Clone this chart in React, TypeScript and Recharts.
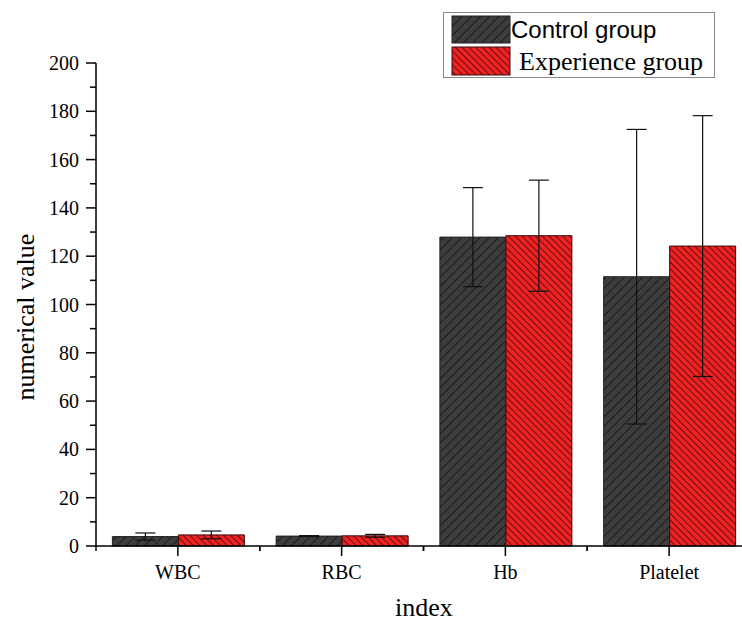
import React from 'react'
import { BarChart, Bar, XAxis, YAxis, ErrorBar } from 'recharts'

const categories = ['WBC', 'RBC', 'Hb', 'Platelet']
const controlMeans = [3.9, 4.1, 127.9, 111.5]
const controlErrors = [1.5, 0.2, 20.5, 61]
const experienceMeans = [4.6, 4.2, 128.5, 124.2]
const experienceErrors = [1.6, 0.6, 23, 54]
const yTicks = [0, 10, 20, 30, 40, 50, 60, 70, 80, 90, 100, 110, 120, 130, 140, 150, 160, 170, 180, 190, 200]

const data = categories.map((name, i) => ({
  name,
  control: controlMeans[i],
  controlErr: controlErrors[i],
  experience: experienceMeans[i],
  experienceErr: experienceErrors[i],
}))

const CHART_W = 752
const CHART_H = 624
const Y_AXIS_W = 96
const MARGIN = { top: 63, right: 1, bottom: 28, left: 0 }
const PLOT_W = CHART_W - MARGIN.left - MARGIN.right - Y_AXIS_W
const CAT_HALF = PLOT_W / categories.length / 2

const serif = '"Liberation Serif", "Times New Roman", serif'
const sans = '"Liberation Sans", Arial, sans-serif'

const Patterns = ({ suffix }: { suffix: string }) => (
  <defs>
    <pattern id={`hatchControl${suffix}`} patternUnits="userSpaceOnUse" width={6.5} height={6.5} patternTransform="rotate(45)">
      <rect width={6.5} height={6.5} fill="#3d3d3d" />
      <line x1={0} y1={0} x2={0} y2={6.5} stroke="#0d0d0d" strokeWidth={1.4} />
    </pattern>
    <pattern id={`hatchExp${suffix}`} patternUnits="userSpaceOnUse" width={4.8} height={4.8} patternTransform="rotate(-45)">
      <rect width={4.8} height={4.8} fill="#ee2222" />
      <line x1={0} y1={0} x2={0} y2={4.8} stroke="#200404" strokeWidth={1.3} />
    </pattern>
  </defs>
)

const YTick = (props: any) => {
  const { x, y, payload } = props
  const major = payload.value % 20 === 0
  return (
    <g>
      <line x1={x} x2={x - (major ? 10 : 6)} y1={y} y2={y} stroke="#000" strokeWidth={1.5} />
      {major && (
        <text x={x - 17} y={y + 7} textAnchor="end" fontFamily={serif} fontSize={20} fill="#000">
          {payload.value}
        </text>
      )}
    </g>
  )
}

const XTick = (props: any) => {
  const { x, y, payload } = props
  return (
    <g>
      <line x1={x} x2={x} y1={y} y2={y + 10} stroke="#000" strokeWidth={1.5} />
      <line x1={x - CAT_HALF} x2={x - CAT_HALF} y1={y} y2={y + 5} stroke="#000" strokeWidth={1.5} />
      <line x1={x + CAT_HALF} x2={x + CAT_HALF} y1={y} y2={y + 5} stroke="#000" strokeWidth={1.5} />
      <text x={x} y={y + 33} textAnchor="middle" fontFamily={serif} fontSize={20} fill="#000">
        {payload.value}
      </text>
    </g>
  )
}

export default function App() {
  return (
    <div style={{ position: 'absolute', left: 0, top: 0, width: 742, height: 624, overflow: 'hidden', background: '#fff' }}>
      <BarChart
        width={CHART_W}
        height={CHART_H}
        data={data}
        margin={MARGIN}
        barCategoryGap="10%"
        barGap={0}
      >
        <Patterns suffix="" />
        <XAxis
          dataKey="name"
          tick={<XTick />}
          tickLine={false}
          tickSize={0}
          tickMargin={0}
          height={50}
          axisLine={{ stroke: '#000', strokeWidth: 1.5 }}
          interval={0}
        />
        <YAxis
          type="number"
          domain={[0, 200]}
          ticks={yTicks}
          interval={0}
          tick={<YTick />}
          tickLine={false}
          tickSize={0}
          tickMargin={0}
          width={Y_AXIS_W}
          axisLine={{ stroke: '#000', strokeWidth: 1.5 }}
        />
        <Bar dataKey="control" fill="url(#hatchControl)" stroke="#222" strokeWidth={1} isAnimationActive={false}>
          <ErrorBar dataKey="controlErr" width={10} stroke="#111" strokeWidth={1.2} direction="y" />
        </Bar>
        <Bar dataKey="experience" fill="url(#hatchExp)" stroke="#3a0a0a" strokeWidth={1} isAnimationActive={false}>
          <ErrorBar dataKey="experienceErr" width={10} stroke="#111" strokeWidth={1.2} direction="y" />
        </Bar>
      </BarChart>
      <svg width={742} height={624} style={{ position: 'absolute', left: 0, top: 0, pointerEvents: 'none' }}>
        <Patterns suffix="Legend" />
        <text
          transform="translate(34, 317) rotate(-90)"
          textAnchor="middle"
          fontFamily={serif}
          fontSize={26}
          fill="#000"
        >
          numerical value
        </text>
        <text x={424} y={616} textAnchor="middle" fontFamily={serif} fontSize={26} fill="#000">
          index
        </text>
        <rect x={443.5} y={12.5} width={271} height={65} fill="#fff" stroke="#888" strokeWidth={1} />
        <rect x={452} y={16} width={58} height={27} fill="url(#hatchControlLegend)" stroke="#222" strokeWidth={1} />
        <rect x={452} y={47} width={58} height={28} fill="url(#hatchExpLegend)" stroke="#3a0a0a" strokeWidth={1} />
        <text x={511} y={38} fontFamily={sans} fontSize={24} fill="#000">
          Control group
        </text>
        <text x={519} y={70} fontFamily={serif} fontSize={26} fill="#000">
          Experience group
        </text>
      </svg>
    </div>
  )
}
